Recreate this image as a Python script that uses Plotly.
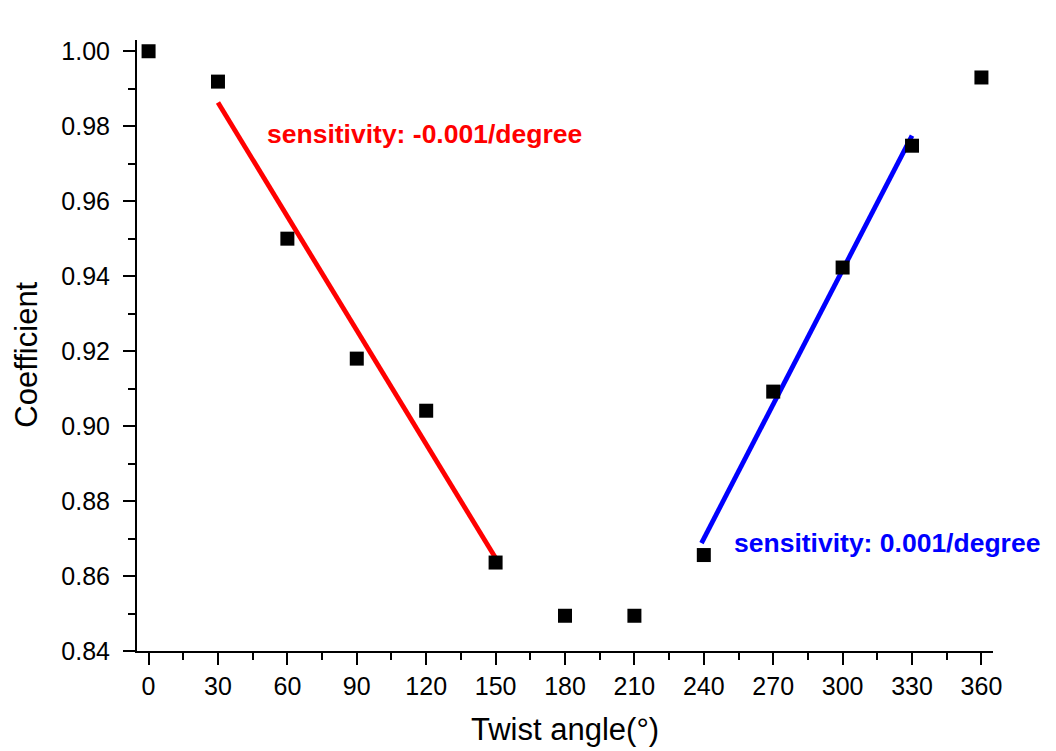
import plotly.graph_objects as go

# Data
twist_angle = [0, 30, 60, 90, 120, 150, 180, 210, 240, 270, 300, 330, 360]
coefficient = [1.000, 0.9919, 0.950, 0.918, 0.9041, 0.8636, 0.8494, 0.8494,
               0.8656, 0.9092, 0.9423, 0.9748, 0.993]

# Linear fit lines (end points)
fit_red_x = [30, 150]
fit_red_y = [0.9863, 0.8648]
fit_blue_x = [239, 330]
fit_blue_y = [0.8688, 0.9775]

x_ticks = [0, 30, 60, 90, 120, 150, 180, 210, 240, 270, 300, 330, 360]
y_ticks = [0.84, 0.86, 0.88, 0.90, 0.92, 0.94, 0.96, 0.98, 1.00]

FONT = "Liberation Sans, Arial, sans-serif"

fig = go.Figure()
fig.add_trace(go.Scatter(x=fit_red_x, y=fit_red_y, mode="lines",
                         line=dict(color="#ff0000", width=4.8), showlegend=False))
fig.add_trace(go.Scatter(x=fit_blue_x, y=fit_blue_y, mode="lines",
                         line=dict(color="#0000ff", width=4.8), showlegend=False))
fig.add_trace(go.Scatter(x=twist_angle, y=coefficient, mode="markers",
                         marker=dict(symbol="square", size=14, color="black",
                                     line=dict(width=0)),
                         showlegend=False))

fig.add_annotation(text="<b>sensitivity: -0.001/degree</b>", x=50.4, y=0.9778,
                   xref="x", yref="y", xanchor="left", yanchor="middle",
                   showarrow=False, font=dict(family=FONT, size=26.5, color="#ff0000"))
fig.add_annotation(text="<b>sensitivity: 0.001/degree</b>", x=252, y=0.8688,
                   xref="x", yref="y", xanchor="left", yanchor="middle",
                   showarrow=False, font=dict(family=FONT, size=26.5, color="#0000ff"))

# Axis titles
fig.add_annotation(text="Twist angle(°)", x=0.5, y=-0.128, xref="paper", yref="paper",
                   xanchor="center", yanchor="middle", showarrow=False,
                   font=dict(family=FONT, size=31, color="black"))
fig.add_annotation(text="Coefficient", x=-0.1285, y=0.485, xref="paper", yref="paper",
                   xanchor="center", yanchor="middle", showarrow=False, textangle=-90,
                   font=dict(family=FONT, size=31, color="black"))

axis_common = dict(
    showline=True, linecolor="black", linewidth=2,
    ticks="outside", ticklen=12, tickwidth=2, tickcolor="black",
    showgrid=False, zeroline=False, mirror=False,
    tickfont=dict(family=FONT, size=25, color="black"),
)

fig.update_xaxes(
    range=[-5, 365], tickmode="array", tickvals=x_ticks,
    ticktext=[str(v) for v in x_ticks],
    minor=dict(ticks="outside", ticklen=7, tickwidth=2, tickcolor="black", dtick=15, tick0=0),
    **axis_common,
)
fig.update_yaxes(
    range=[0.84, 1.003], tickmode="array", tickvals=y_ticks,
    ticktext=[f"{v:.2f}" for v in y_ticks],
    minor=dict(ticks="outside", ticklen=7, tickwidth=2, tickcolor="black", dtick=0.01, tick0=0.84),
    ticklabelstandoff=8,
    **axis_common,
)

fig.update_layout(
    width=1056, height=751,
    margin=dict(l=137, r=63, t=40, b=100),
    paper_bgcolor="white", plot_bgcolor="white",
    font=dict(family=FONT, color="black"),
)

fig.write_html("out.html")
